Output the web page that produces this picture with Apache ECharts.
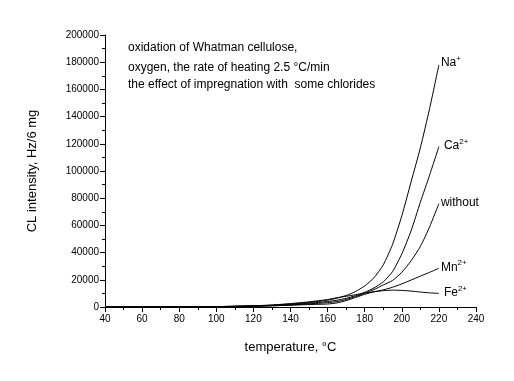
<!DOCTYPE html>
<html><head><meta charset="utf-8">
<script src="https://cdn.jsdelivr.net/npm/echarts@6/dist/echarts.min.js"></script>
<style>html,body{margin:0;padding:0;background:#fff}#c{width:514px;height:381px}</style>
</head><body><div id="c"></div>
<script>
const temps = [40,60,80,100,110,120,130,140,150,160,165,170,175,180,185,190,195,200,205,210,215,220];
const na   = [0,0,100,300,500,800,1300,2200,3300,5000,6500,8500,11300,15500,21500,31000,46000,67000,92000,117000,146000,178000];
const ca   = [0,0,100,300,500,700,1100,1800,2800,4000,5000,6400,8300,10800,14000,18500,26000,39000,56000,77000,97000,118000];
const without = [0,0,100,200,400,600,900,1500,2300,3200,4000,5500,7600,10200,12800,16200,19500,25500,34000,44500,59000,76000];
const mn   = [0,0,100,200,400,600,900,1300,1800,2200,3000,4700,7000,9300,11200,12600,14500,17000,19800,22700,25500,28500];
const fe   = [0,0,100,300,600,900,1500,2500,3800,5500,6800,7900,9000,10200,11200,12000,12400,12200,11700,11000,10400,10000];
const xTicks = {min:40, max:240, interval:20};
const yTicks = {min:0, max:200000, interval:20000};
const annotation = ["oxidation of Whatman cellulose,", "oxygen, the rate of heating 2.5 °C/min", "the effect of impregnation with  some chlorides"];

const FONT = 'Liberation Sans, Arial, sans-serif';
const rich = {a:{fontSize:12,fontFamily:FONT,color:'#000'}, s:{fontSize:8,fontFamily:FONT,color:'#000',verticalAlign:'top',padding:[0,0,8,0]}};
function mk(name, vals, label, off){
  return {
    name, type:'line', showSymbol:false, smooth:0.2, silent:true,
    lineStyle:{color:'#000', width:1},
    data: temps.map((t,i)=>[t, vals[i]]),
    endLabel:{show:true, formatter:label, rich, offset:off, distance:2}
  };
}
const chart = echarts.init(document.getElementById('c'), null, {renderer:'canvas'});
chart.setOption({
  animation:false,
  backgroundColor:'#fff',
  grid:{left:105, right:38, top:35, bottom:74},
  xAxis:{type:'value', min:xTicks.min, max:xTicks.max, interval:xTicks.interval,
    name:'temperature, °C', nameLocation:'middle', nameGap:34,
    nameTextStyle:{fontSize:13, fontFamily:FONT, color:'#000'},
    axisLine:{lineStyle:{color:'#000', width:1}},
    axisTick:{length:5, lineStyle:{color:'#000'}},
    minorTick:{show:true, splitNumber:2, length:3, lineStyle:{color:'#000'}},
    axisLabel:{fontSize:10, fontFamily:FONT, color:'#000', margin:7, formatter:v=>String(v)},
    splitLine:{show:false}},
  yAxis:{type:'value', min:yTicks.min, max:yTicks.max, interval:yTicks.interval,
    name:'CL intensity, Hz/6 mg', nameLocation:'middle', nameGap:66, nameRotate:90,
    nameTextStyle:{fontSize:13, fontFamily:FONT, color:'#000'},
    axisLine:{show:true, lineStyle:{color:'#000', width:1}},
    axisTick:{show:true, length:5, lineStyle:{color:'#000'}},
    minorTick:{show:true, splitNumber:2, length:3, lineStyle:{color:'#000'}},
    axisLabel:{fontSize:10, fontFamily:FONT, color:'#000', margin:6, formatter:v=>String(v)},
    splitLine:{show:false}},
  graphic: annotation.map((t,i)=>({type:'text', left:128, top:[42,62,79][i],
    style:{text:t, fontSize:12, fontFamily:FONT, fill:'#000'}})),
  series:[
    mk('Na', na, '{a|Na}{s|+}', [0,-2]),
    mk('Ca', ca, '{a|Ca}{s|2+}', [3,-1]),
    mk('without', without, '{a|without}', [0,-1]),
    mk('Mn', mn, '{a|Mn}{s|2+}', [0,-1]),
    mk('Fe', fe, '{a|Fe}{s|2+}', [3,-1])
  ]
});
</script></body></html>
